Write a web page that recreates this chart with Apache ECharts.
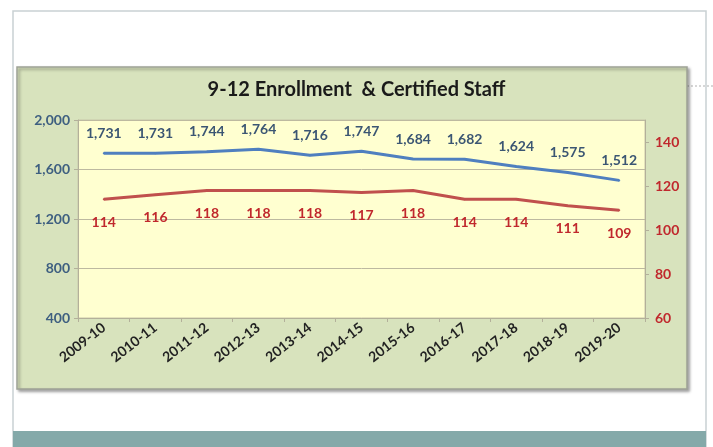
<!DOCTYPE html>
<html>
<head>
<meta charset="utf-8">
<script src="https://cdn.jsdelivr.net/npm/echarts@6/dist/echarts.min.js"></script>
<style>
  html, body { margin: 0; padding: 0; background: #fff; }
  #chart { width: 713px; height: 447px; }
</style>
</head>
<body>
<div id="chart"></div>
<script>
// data
const years = ['2009-10', '2010-11', '2011-12', '2012-13', '2013-14', '2014-15',
  '2015-16', '2016-17', '2017-18', '2018-19', '2019-20']
const enrollment = [1731, 1731, 1744, 1764, 1716, 1747, 1684, 1682, 1624, 1575, 1512]
const staff = [114, 116, 118, 118, 118, 117, 118, 114, 114, 111, 109]

const fontName = 'Lato'
const blue = '#4f7fbf'
const red = '#c0504d'

const myChart = echarts.init(document.getElementById('chart'))

let option = {
  backgroundColor: '#ffffff',
  animation: false,
  graphic: [
    // slide frame
    { type: 'rect', shape: { x: 13, y: 11, width: 693, height: 440 },
      style: { fill: '#ffffff', stroke: '#c9d1d3', lineWidth: 1.5 }, z: -10 },
    // teal band at the bottom
    { type: 'rect', shape: { x: 13, y: 431, width: 693, height: 20 },
      style: { fill: '#84a9a9' }, z: -9 },
    // dotted guide line
    { type: 'line', shape: { x1: 687, y1: 86, x2: 713, y2: 86 },
      style: { stroke: '#b0b0b0', lineDash: [2, 2], lineWidth: 1 }, z: -9 },
    // green chart panel
    { type: 'rect', shape: { x: 17, y: 67, width: 670, height: 322 },
      style: { fill: '#d8e3bd', stroke: '#9fa296', lineWidth: 1.5,
        shadowColor: 'rgba(0,0,0,0.35)', shadowOffsetX: 2, shadowOffsetY: 2, shadowBlur: 3 }, z: -8 }
  ],
  title: {
    text: '9-12 Enrollment  & Certified Staff',
    left: 'center',
    top: 75,
    textStyle: { fontFamily: fontName, fontSize: 20, fontWeight: 'bold', color: '#1a1a1a' }
  },
  grid: {
    left: 78, right: 68, top: 120, bottom: 129,
    show: true,
    backgroundColor: '#ffffd0',
    borderColor: '#c9c6a8',
    borderWidth: 1
  },
  xAxis: {
    type: 'category',
    data: years,
    boundaryGap: true,
    axisLine: { lineStyle: { color: '#b3b09a' } },
    axisTick: { show: true, length: 4, lineStyle: { color: '#b3b09a' } },
    axisLabel: {
      rotate: 38, margin: 8, interval: 0,
      fontFamily: fontName, fontSize: 14, fontWeight: 'bold', color: '#222'
    }
  },
  yAxis: [
    {
      type: 'value',
      min: 400, max: 2000, interval: 400,
      axisLine: { show: true, lineStyle: { color: '#b3b09a' } },
      axisTick: { show: true, length: 4, lineStyle: { color: '#b3b09a' } },
      splitLine: { lineStyle: { color: '#bdb9a0', width: 1 } },
      axisLabel: {
        fontFamily: fontName, fontSize: 14, fontWeight: 'bold', color: '#3e5f80',
        formatter: v => v.toLocaleString('en-US')
      }
    },
    {
      type: 'value',
      min: 60, max: 150, interval: 20,
      position: 'right',
      axisLine: { show: true, lineStyle: { color: '#b3b09a' } },
      axisTick: { show: true, length: 4, lineStyle: { color: '#b3b09a' } },
      splitLine: { show: false },
      axisLabel: {
        fontFamily: fontName, fontSize: 14, fontWeight: 'bold', color: '#c0282d',
        showMaxLabel: false, margin: 10
      }
    }
  ],
  series: [
    {
      name: 'Enrollment',
      type: 'line',
      data: enrollment,
      yAxisIndex: 0,
      symbol: 'circle',
      symbolSize: 2,
      showSymbol: true,
      itemStyle: { color: blue },
      lineStyle: { color: blue, width: 3 },
      label: {
        show: true, position: 'top', distance: 12, opacity: 1,
        fontFamily: fontName, fontSize: 14, fontWeight: 'bold', color: '#3b5673',
        formatter: p => p.value.toLocaleString('en-US')
      }
    },
    {
      name: 'Certified Staff',
      type: 'line',
      data: staff,
      yAxisIndex: 1,
      symbol: 'circle',
      symbolSize: 2,
      showSymbol: true,
      itemStyle: { color: red },
      lineStyle: { color: red, width: 3 },
      label: {
        show: true, position: 'bottom', distance: 15, opacity: 1,
        fontFamily: fontName, fontSize: 14, fontWeight: 'bold', color: '#c0282d'
      }
    }
  ]
}

option && myChart.setOption(option)
</script>
</body>
</html>
